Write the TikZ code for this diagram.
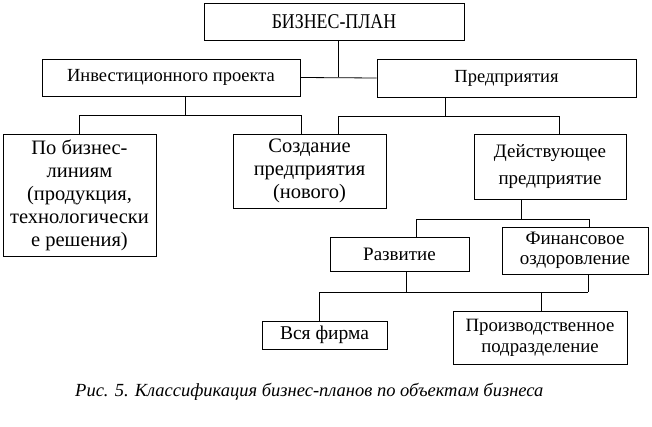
\documentclass[tikz,border=0pt]{standalone}
\usepackage{fontspec}
\setmainfont{Liberation Serif}
\newfontfamily\titlefont[FakeStretch=0.85]{Liberation Serif}
\begin{document}
\begin{tikzpicture}[x=1pt,y=-1pt,
  box/.style={draw, line width=0.8pt, inner sep=0pt, align=center, anchor=center},
  conn/.style={line width=0.8pt},
  txt/.style={font=\fontsize{19}{23}\selectfont},
  big/.style={font=\fontsize{20.5}{23}\selectfont}]
\useasboundingbox (0,0) rectangle (652,427);
% boxes
\node[box, minimum width=260pt, minimum height=37pt, font=\titlefont\fontsize{21}{24}\selectfont] (top) at (334,21.5) {БИЗНЕС-ПЛАН};
\node[box, font=\fontsize{18.5}{22}\selectfont, minimum width=258pt, minimum height=37pt] (inv) at (171,77.5) {Инвестиционного проекта};
\node[box, font=\fontsize{18.5}{22}\selectfont, minimum width=259pt, minimum height=38pt] (pred) at (506.5,78) {Предприятия};
\node[box, big, minimum width=153pt, minimum height=122pt] (po) at (79.5,195) {По бизнес-\\линиям\\(продукция,\\технологически\\е решения)};
\node[box, big, minimum width=153pt, minimum height=74pt] (soz) at (309.5,171) {Создание\\предприятия\\(нового)};
\node[box, font=\fontsize{19}{27}\selectfont, minimum width=152pt, minimum height=65pt] (dei) at (550,166.5) {Действующее\\предприятие};
\node[box, txt, minimum width=139pt, minimum height=34pt] (raz) at (399.5,254) {Развитие};
\node[box, font=\fontsize{19}{20}\selectfont, minimum width=146pt, minimum height=47pt] (fin) at (575,250.5) {Финансовое\\оздоровление};
\node[box, font=\fontsize{19.5}{22}\selectfont, minimum width=125pt, minimum height=28pt] (vsya) at (324.5,335) {Вся фирма};
\node[box, font=\fontsize{18.8}{21}\selectfont, minimum width=174pt, minimum height=53pt] (proizv) at (540,337.5) {Производственное\\подразделение};
% caption
\node[font=\fontsize{18.5}{20}\selectfont\itshape, anchor=west, inner sep=0pt] (cap) at (75,392) {Рис. 5. Классификация бизнес-планов по объектам бизнеса};
% junction coordinates
\coordinate (j1) at (338,77);
\coordinate (j2) at (185,115);
\coordinate (j2r) at (301,115);
\coordinate (j3) at (445,116);
\coordinate (j3l) at (338,116);
\coordinate (j3r) at (559,116);
\coordinate (j4) at (521,219);
\coordinate (j4l) at (416,219);
\coordinate (j4r) at (589,219);
\coordinate (j5a) at (406,292);
\coordinate (j5b) at (588,292);
\coordinate (j5l) at (319,292);
\coordinate (j5r) at (541,292);
% connectors
\draw[conn] (inv.east) -- (pred.west);
\draw[conn] (j1 |- top.south) -- (j1);
\draw[conn] (j2 |- inv.south) -- (j2);
\draw[conn] (po.north) |- (j2r) -- (j2r |- soz.north);
\draw[conn] (j3 |- pred.south) -- (j3);
\draw[conn] (j3l |- soz.north) -- (j3l) -- (j3r) -- (j3r |- dei.north);
\draw[conn] (j4 |- dei.south) -- (j4);
\draw[conn] (j4l |- raz.north) -- (j4l) -- (j4r) -- (j4r |- fin.north);
\draw[conn] (j5a |- raz.south) -- (j5a);
\draw[conn] (j5b |- fin.south) -- (j5b);
\draw[conn] (j5l |- vsya.north) -- (j5l) -- (j5b);
\draw[conn] (j5r) -- (j5r |- proizv.north);
\end{tikzpicture}
\end{document}
